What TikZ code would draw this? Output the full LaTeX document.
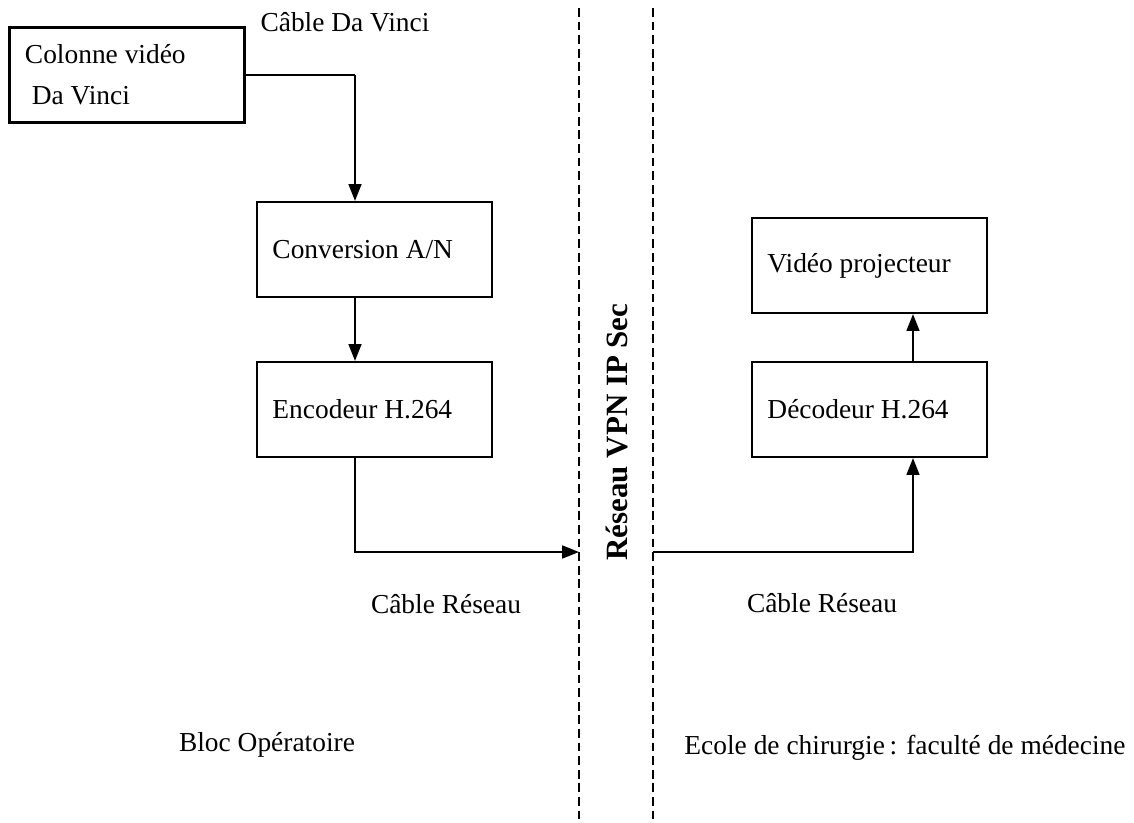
\documentclass[tikz,border=0pt]{standalone}
\usepackage{fontspec}
\setmainfont{Liberation Serif}
\usetikzlibrary{positioning, arrows.meta, calc}

\tikzset{
	bloc/.style={draw, line width=1.5pt, minimum width=5.875cm, minimum height=2.375cm,
		text width=5.1cm, inner xsep=0.3875cm, align=flush left, font=\fontsize{19.5}{29}\selectfont},
	etiq/.style={inner sep=0pt, font=\fontsize{19.5}{23}\selectfont},
	fleche/.style={line width=1.4pt, -{Triangle[length=0.42cm, width=0.32cm]}},
	liaison/.style={line width=1.4pt},
	frontiere/.style={line width=1pt, dash pattern=on 0.22cm off 0.12cm},
}

\begin{document}
\begin{tikzpicture}[x=0.025cm, y=-0.025cm]
	\useasboundingbox (0,0) rectangle (1134,823);
	% ---- Bloc operatoire ----
	\begin{scope}
	\node[bloc] (colonne) at (127,75) {Colonne vidéo\\ \ Da Vinci};
	\node[bloc] (conv) at (374.5,249.5) {Conversion A/N};
	\node[bloc] (enc) at (374.5,409.5) {Encodeur H.264};
	\node[etiq] (cabledv) at (345,22) {Câble Da Vinci};
	\node[etiq] (cablerg) at (446,604) {Câble Réseau};
	\node[etiq] (bloc) at (267,745) {Bloc Opératoire};
	\coordinate (coude) at (355,75);
	\coordinate (vpng) at (579,552);
	\draw[liaison] (colonne.east) -- (coude);
	\draw[fleche] (coude) -- (coude |- conv.north);
	\draw[fleche] (conv.south -| coude) -- (enc.north -| coude);
	\draw[fleche] (enc.south -| coude) |- (vpng);
	\end{scope}
	% ---- Reseau VPN ----
	\draw[frontiere] (579,8) -- (579,823);
	\draw[frontiere] (653,8) -- (653,823);
	\node[etiq, rotate=90, font=\fontsize{22}{26}\selectfont\bfseries] (vpn) at (617,432) {Réseau VPN IP Sec};
	% ---- Ecole de chirurgie ----
	\begin{scope}
	\node[bloc] (proj) at (869.5,265.5) {Vidéo projecteur};
	\node[bloc] (dec) at (869.5,409.5) {Décodeur H.264};
	\node[etiq] (cablerd) at (822,603) {Câble Réseau};
	\node[etiq] (ecole) at (905,748) {Ecole de chirurgie\,: faculté de médecine};
	\coordinate (vpnd) at (653,552);
	\coordinate (montee) at (913,552);
	\draw[fleche] (vpnd) -| (dec.south -| montee);
	\draw[fleche] (dec.north -| montee) -- (proj.south -| montee);
	\end{scope}
\end{tikzpicture}
\end{document}
